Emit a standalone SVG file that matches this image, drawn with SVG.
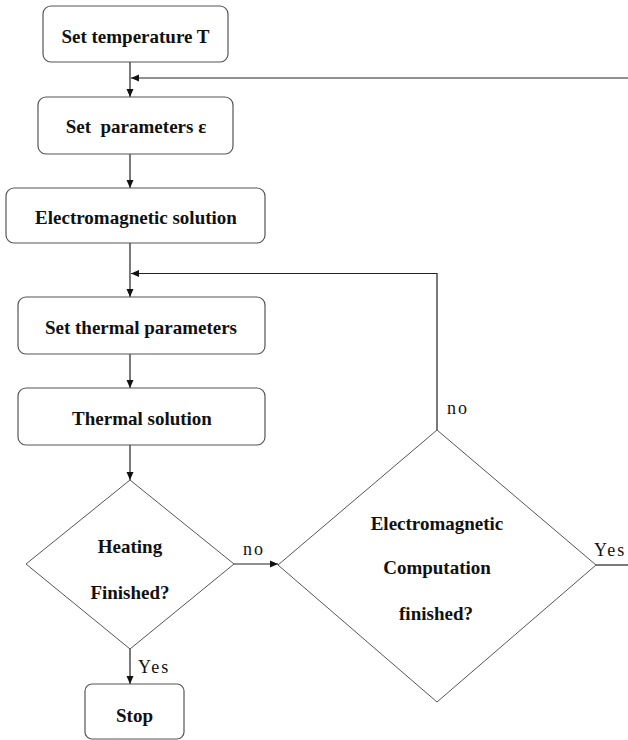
<svg xmlns="http://www.w3.org/2000/svg" width="628" height="740" viewBox="0 0 628 740">
<style>
.box{fill:#fff;stroke:#555;stroke-width:1.2}
.dia{fill:#fff;stroke:#555;stroke-width:1}
.t{font-family:"Liberation Serif","Times New Roman",serif;font-weight:bold;font-size:19px;fill:#111;text-anchor:middle}
.l{font-family:"Liberation Serif","Times New Roman",serif;font-size:18px;letter-spacing:2px;fill:#111}
.c{fill:none;stroke:#222;stroke-width:1.2}
</style>
<defs>
<marker id="ah" markerWidth="8" markerHeight="8" refX="8" refY="4" orient="auto" markerUnits="userSpaceOnUse">
<path d="M0,0.5 L8,4 L0,7.5 Z" fill="#111"/>
</marker>
</defs>
<g id="connectors">
<path class="c" d="M130,62 V97" marker-end="url(#ah)"/>
<path class="c" d="M628,78 H131" marker-end="url(#ah)"/>
<path class="c" d="M130,154 V188" marker-end="url(#ah)"/>
<path class="c" d="M130,243 V297" marker-end="url(#ah)"/>
<path class="c" d="M437,430 V273.5 H131" marker-end="url(#ah)"/>
<path class="c" d="M130,354 V388" marker-end="url(#ah)"/>
<path class="c" d="M130,445 V480" marker-end="url(#ah)"/>
<path class="c" d="M234,564 H278" marker-end="url(#ah)"/>
<path class="c" d="M130,649 V684" marker-end="url(#ah)"/>
<path class="c" d="M596,565 H628"/>
<text class="l" x="243" y="555">no</text>
<text class="l" x="447" y="414">no</text>
<text class="l" x="594" y="556">Yes</text>
<text class="l" x="138" y="673">Yes</text>
</g>
<g id="n1">
<rect class="box" x="43" y="6" width="185" height="56" rx="8"/>
<text class="t" x="135.5" y="43">Set temperature T</text>
</g>
<g id="n2">
<rect class="box" x="38" y="97" width="195" height="57" rx="8"/>
<text class="t" x="136" y="133" xml:space="preserve">Set  parameters ε</text>
</g>
<g id="n3">
<rect class="box" x="6" y="188" width="259" height="55" rx="8"/>
<text class="t" x="136" y="224">Electromagnetic solution</text>
</g>
<g id="n4">
<rect class="box" x="18" y="297" width="247" height="57" rx="8"/>
<text class="t" x="141" y="334">Set thermal parameters</text>
</g>
<g id="n5">
<rect class="box" x="18" y="388" width="247" height="57" rx="8"/>
<text class="t" x="142" y="425">Thermal solution</text>
</g>
<g id="d1">
<polygon class="dia" points="130,480 234,564 130,649 26,564"/>
<text class="t" x="130" y="553">Heating</text>
<text class="t" x="130" y="599">Finished?</text>
</g>
<g id="d2">
<polygon class="dia" points="437,430 596,565 437,702 278,565"/>
<text class="t" x="437" y="530">Electromagnetic</text>
<text class="t" x="437" y="574">Computation</text>
<text class="t" x="436" y="620">finished?</text>
</g>
<g id="stop">
<rect class="box" x="85" y="684" width="99" height="55" rx="7"/>
<text class="t" x="134.5" y="722">Stop</text>
</g>
</svg>
